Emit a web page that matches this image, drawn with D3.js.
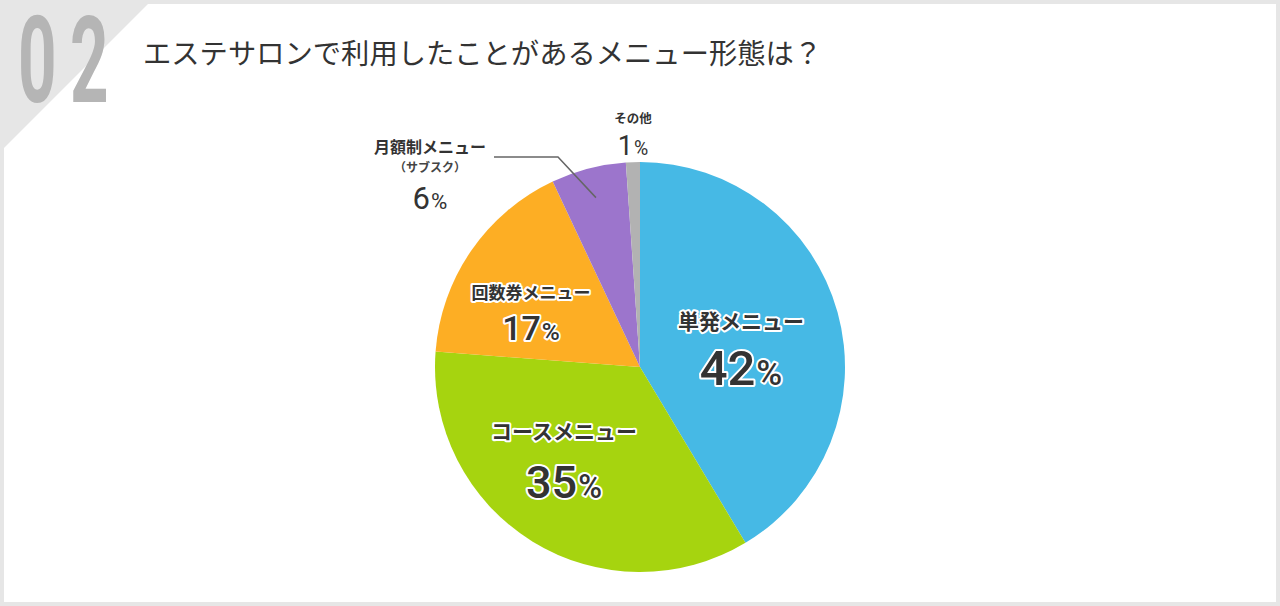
<!DOCTYPE html>
<html><head><meta charset="utf-8">
<script src="https://cdn.jsdelivr.net/npm/d3@7"></script>
<style>html,body{margin:0;padding:0;background:#fff;}svg{display:block;}</style>
</head><body>
<svg id="chart" width="1280" height="606"></svg>
<script>
// ---- data ----
const title = "エステサロンで利用したことがあるメニュー形態は？";
const number = "02";
const categories = ["単発メニュー", "コースメニュー", "回数券メニュー", "月額制メニュー", "その他"];
const subLabels = ["", "", "", "（サブスク）", ""];
const values = [41.4, 34.8, 16.8, 5.9, 1.1];
const percentLabels = ["42", "35", "17", "6", "1"];
const colors = ["#46b9e5", "#a6d40f", "#fdae24", "#9c75cc", "#b2b2b2"];

// ---- layout ----
const W = 1280, H = 606;
const cx = 640, cy = 367, R = 205;
const labelLayout = [
  {x: 741, nameY: 329, pctY: 385, nameSize: 21, pctSize: 49, halo: true},
  {x: 564, nameY: 439, pctY: 498, nameSize: 21, pctSize: 45, halo: true},
  {x: 531, nameY: 299, pctY: 340, nameSize: 17, pctSize: 34, halo: true},
  {x: 430, nameY: 153, subY: 172, pctY: 209, nameSize: 16, pctSize: 31, halo: false},
  {x: 633, nameY: 123, pctY: 155, nameSize: 12.5, pctSize: 27, halo: false}
];

const svg = d3.select("#chart");

// background frame
svg.append("rect").attr("width", W).attr("height", H).attr("fill", "#e6e6e6");
svg.append("polygon")
  .attr("points", [[148,4],[1276,4],[1276,602],[4,602],[4,148]].map(p => p.join(",")).join(" "))
  .attr("fill", "#ffffff");

// big number
svg.append("text")
  .attr("transform", "translate(18,102) scale(0.56,1)")
  .attr("font-family", "Roboto, sans-serif")
  .attr("font-weight", 700)
  .attr("font-size", 120)
  .attr("letter-spacing", 24)
  .attr("fill", "#b5b5b5")
  .text(number);

// title
svg.append("text")
  .attr("x", 143).attr("y", 64)
  .attr("font-family", "'Noto Sans CJK JP', sans-serif")
  .attr("font-size", 28.3)
  .attr("fill", "#333")
  .text(title);

// pie
const pie = d3.pie().sort(null).value(d => d);
const arc = d3.arc().innerRadius(0).outerRadius(R);
const arcs = pie(values);
const g = svg.append("g").attr("transform", `translate(${cx},${cy})`);
g.selectAll("path").data(arcs).join("path")
  .attr("d", arc)
  .attr("fill", (d, i) => colors[i]);

// leader line for 月額制
const leaderArc = d3.arc().innerRadius(175).outerRadius(175);
const pc = leaderArc.centroid(arcs[3]);
svg.append("polyline")
  .attr("points", [[494,157],[558,157],[cx + pc[0], cy + pc[1]]].map(p => p.join(",")).join(" "))
  .attr("fill", "none").attr("stroke", "#666").attr("stroke-width", 1.5);

// labels
const lg = svg.append("g");
categories.forEach((name, i) => {
  const L = labelLayout[i];
  const haloAttrs = sel => {
    if (L.halo) sel.attr("stroke", "#fff").attr("stroke-width", 4).attr("stroke-linejoin", "round").attr("paint-order", "stroke");
    return sel;
  };
  lg.append("text")
    .attr("x", L.x).attr("y", L.nameY)
    .attr("text-anchor", "middle")
    .attr("font-family", "'Noto Sans CJK JP', sans-serif")
    .attr("font-weight", 700)
    .attr("font-size", L.nameSize)
    .attr("fill", "#333")
    .call(haloAttrs)
    .text(name);
  if (subLabels[i]) {
    lg.append("text")
      .attr("x", L.x).attr("y", L.subY)
      .attr("text-anchor", "middle")
      .attr("font-family", "'Noto Sans CJK JP', sans-serif")
      .attr("font-weight", 700)
      .attr("font-size", 12)
      .attr("fill", "#444")
      .text(subLabels[i]);
  }
  const t = lg.append("text")
    .attr("x", L.x).attr("y", L.pctY)
    .attr("text-anchor", "middle")
    .attr("font-family", "Roboto, sans-serif")
    .attr("font-weight", L.halo ? 500 : 400)
    .attr("font-size", L.pctSize)
    .attr("fill", "#333")
    .call(haloAttrs);
  t.append("tspan").text(percentLabels[i]);
  t.append("tspan").attr("font-size", L.pctSize * 0.72).attr("dx", 1).text("%");
});
</script>
</body></html>
